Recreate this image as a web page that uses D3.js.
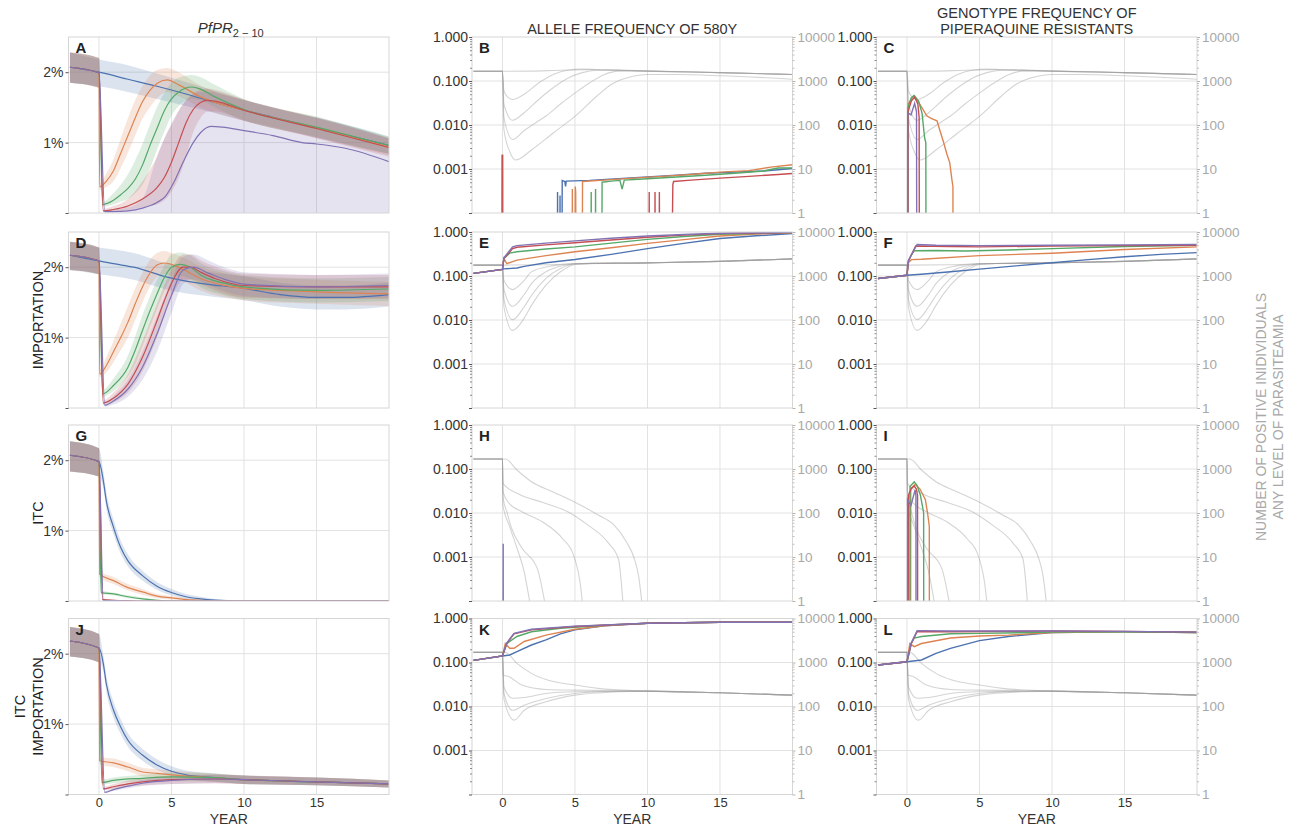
<!DOCTYPE html>
<html><head><meta charset="utf-8">
<script src="https://cdn.jsdelivr.net/npm/d3@7"></script>
<style>body{margin:0;background:#fff;} svg{font-family:"Liberation Sans",Arial,sans-serif;}</style>
</head><body><svg id="c" width="1298" height="826"></svg>
<script>
// ---------------- DATA ----------------
const seriesNames = ["blue","orange","green","red","purple"];
const colors = ["#4C72B0","#DD8452","#55A868","#C44E52","#8172B3"];
const xTicks = [0,5,10,15];
const pctTicks = [0,1,2];
const freqTicks = [0.0001,0.001,0.01,0.1,1];
const countTicks = [1,10,100,1000,10000];
const colTitles = ["", "ALLELE FREQUENCY OF 580Y", "GENOTYPE FREQUENCY OF|PIPERAQUINE RESISTANTS"];
const rowLabels = [[], ["IMPORTATION"], ["ITC"], ["ITC","IMPORTATION"]];
const letters = ["A","B","C","D","E","F","G","H","I","J","K","L"];
const rightTitle = ["NUMBER OF POSITIVE INIDIVIDUALS","ANY LEVEL OF PARASITEAMIA"];

// PfPR panels: [year, mean %, low %, high %]
const A_pre = [[-2,2.07,1.85,2.28],[0,1.99,1.78,2.2]];
const A_blue = [[-2,2.07,1.85,2.28],[0,2.0,1.8,2.18],[2,1.9,1.72,2.1],[4,1.8,1.62,1.98],[6,1.69,1.52,1.86],[8,1.57,1.42,1.73],[10,1.46,1.31,1.61],[12,1.36,1.22,1.5],[15,1.21,1.07,1.35],[18,1.06,0.93,1.2],[20,0.96,0.84,1.08]];
const A_orange = [[0.05,0.37,0.33,0.42],[0.5,0.45,0.37,0.56],[1,0.6,0.45,0.76],[1.5,0.85,0.64,1.06],[2,1.1,0.86,1.35],[2.5,1.35,1.1,1.6],[3,1.58,1.34,1.8],[3.5,1.74,1.5,1.95],[4,1.84,1.63,2.03],[4.7,1.89,1.72,2.06],[5.5,1.82,1.66,2.0],[7,1.65,1.5,1.81],[10,1.46,1.31,1.61],[15,1.21,1.07,1.36],[20,0.94,0.82,1.07]];
const A_green = [[0.25,0.12,0.09,0.16],[1,0.18,0.12,0.28],[1.5,0.26,0.16,0.4],[2,0.35,0.2,0.55],[2.5,0.48,0.28,0.75],[3,0.68,0.4,0.98],[3.5,0.95,0.62,1.25],[4,1.2,0.9,1.5],[4.5,1.45,1.15,1.7],[5,1.62,1.38,1.85],[5.5,1.72,1.52,1.92],[6.4,1.79,1.62,1.96],[7,1.76,1.6,1.93],[8,1.65,1.5,1.82],[10,1.47,1.32,1.62],[15,1.22,1.08,1.37],[20,0.96,0.84,1.09]];
const A_red = [[0.3,0.03,0.01,0.06],[1,0.05,0.02,0.1],[2,0.1,0.04,0.2],[3,0.2,0.08,0.45],[4,0.36,0.12,0.8],[4.5,0.5,0.18,1.05],[5,0.72,0.3,1.25],[5.5,1.0,0.5,1.45],[6,1.28,0.8,1.6],[6.5,1.47,1.15,1.7],[7,1.57,1.35,1.75],[7.5,1.6,1.44,1.77],[8,1.59,1.44,1.75],[10,1.46,1.31,1.61],[15,1.2,1.06,1.35],[20,0.93,0.8,1.06]];
const A_purple = [[0.4,0.02,0,0.04],[1,0.02,0,0.05],[2,0.03,0,0.08],[3,0.07,0,0.2],[4,0.15,0,0.8],[4.6,0.24,0,1.1],[5.2,0.45,0,1.35],[5.8,0.72,0,1.55],[6.5,1.0,0,1.68],[7,1.14,0,1.72],[7.7,1.23,0,1.72],[8.5,1.22,0,1.68],[10,1.17,0,1.6],[12,1.1,0,1.5],[14,1.0,0,1.4],[15,0.98,0,1.36],[17,0.92,0,1.25],[20,0.73,0,1.06]];

const D_pre = [[-2,2.17,1.96,2.36],[0,2.09,1.9,2.28]];
const D_blue = [[1,2.05,1.87,2.25],[2.4,2.0,1.82,2.2],[4.7,1.86,1.68,2.05],[7,1.77,1.6,1.95],[10,1.7,1.53,1.87],[12.5,1.61,1.44,1.78],[15,1.57,1.4,1.74],[17,1.57,1.4,1.74],[20,1.61,1.44,1.78]];
const D_orange = [[0.05,0.48,0.44,0.54],[0.5,0.6,0.5,0.72],[1,0.8,0.65,0.95],[1.5,1.0,0.82,1.2],[2,1.22,1.0,1.45],[2.5,1.48,1.25,1.7],[3,1.72,1.5,1.92],[3.5,1.91,1.72,2.1],[4,2.03,1.86,2.2],[4.5,2.06,1.9,2.23],[5,2.04,1.88,2.2],[6,1.95,1.78,2.12],[7,1.84,1.67,2.01],[8.5,1.75,1.58,1.92],[10,1.7,1.53,1.87],[15,1.65,1.48,1.82],[20,1.62,1.45,1.79]];
const D_green = [[0.25,0.2,0.16,0.26],[1,0.32,0.24,0.42],[2,0.58,0.45,0.75],[2.5,0.82,0.62,1.02],[3,1.1,0.88,1.32],[3.5,1.37,1.15,1.58],[4,1.62,1.4,1.82],[4.5,1.85,1.65,2.02],[5,2.0,1.84,2.18],[5.6,2.04,1.88,2.21],[6.3,2.0,1.83,2.17],[7,1.89,1.72,2.06],[8.5,1.78,1.61,1.95],[10,1.72,1.55,1.89],[15,1.67,1.5,1.84],[20,1.69,1.52,1.86]];
const D_red = [[0.3,0.07,0.04,0.11],[1,0.14,0.08,0.22],[2,0.34,0.22,0.48],[3,0.72,0.52,0.95],[4,1.24,1.0,1.48],[4.5,1.52,1.3,1.74],[5,1.77,1.56,1.96],[5.8,2.0,1.82,2.18],[6.3,2.0,1.83,2.18],[7,1.93,1.76,2.1],[8,1.84,1.67,2.01],[10,1.74,1.57,1.91],[15,1.72,1.55,1.89],[20,1.72,1.55,1.89]];
const D_purple = [[0.4,0.04,0.02,0.07],[1,0.1,0.05,0.17],[2,0.27,0.16,0.4],[3,0.58,0.4,0.8],[4,1.05,0.8,1.3],[5,1.6,1.35,1.82],[5.8,1.96,1.76,2.15],[6.5,2.0,1.83,2.18],[7.5,1.92,1.75,2.1],[8.5,1.84,1.67,2.01],[10,1.76,1.59,1.93],[15,1.72,1.55,1.89],[20,1.74,1.57,1.91]];

const G_pre = [[-2,2.07,1.84,2.27],[0,1.98,1.77,2.17]];
const G_blue = [[0.3,1.71,1.6,1.85],[0.5,1.43,1.32,1.56],[1,1.05,0.95,1.16],[1.5,0.76,0.67,0.86],[2,0.57,0.49,0.66],[3,0.36,0.29,0.43],[4,0.21,0.16,0.27],[5,0.12,0.08,0.17],[6,0.06,0.03,0.1],[7,0.03,0.01,0.06],[8,0.012,0,0.03],[9,0.005,0,0.015],[10,0,0,0.005],[20,0,0,0]];
const G_orange = [[0.05,0.38,0.33,0.43],[1,0.29,0.24,0.34],[2,0.19,0.15,0.24],[3,0.13,0.09,0.17],[4,0.07,0.04,0.1],[5,0.045,0.02,0.07],[6,0.02,0.005,0.04],[7,0.01,0,0.02],[8,0,0,0.005],[20,0,0,0]];
const G_green = [[0.15,0.12,0.1,0.15],[1,0.1,0.08,0.12],[2,0.06,0.04,0.08],[3,0.03,0.02,0.05],[4,0.01,0,0.02],[5,0,0,0.005],[20,0,0,0]];
const G_red = [[0.25,0.02,0.01,0.04],[1,0.01,0,0.02],[2,0.004,0,0.01],[3,0,0,0],[20,0,0,0]];
const G_purple = [[0.3,0.01,0,0.02],[1,0.004,0,0.01],[2,0,0,0],[20,0,0,0]];

const J_pre = [[-2,2.18,1.96,2.38],[0,2.08,1.88,2.28]];
const J_blue = [[0.3,1.86,1.75,1.98],[0.5,1.58,1.47,1.7],[1,1.2,1.09,1.32],[1.5,0.96,0.86,1.07],[2,0.77,0.68,0.87],[3,0.56,0.48,0.65],[4,0.42,0.35,0.5],[5,0.33,0.27,0.4],[6,0.28,0.22,0.34],[8,0.24,0.18,0.3],[10,0.21,0.15,0.27],[15,0.18,0.13,0.24],[20,0.15,0.1,0.2]];
const J_orange = [[0.05,0.48,0.43,0.53],[1,0.45,0.39,0.51],[2,0.39,0.33,0.45],[3,0.32,0.26,0.38],[4,0.3,0.24,0.36],[5,0.28,0.22,0.34],[7,0.25,0.19,0.31],[10,0.21,0.15,0.27],[15,0.18,0.13,0.24],[20,0.15,0.1,0.2]];
const J_green = [[0.2,0.17,0.14,0.21],[1,0.2,0.16,0.24],[3,0.23,0.18,0.28],[5,0.25,0.19,0.31],[8,0.24,0.18,0.3],[10,0.21,0.15,0.27],[15,0.18,0.13,0.24],[20,0.15,0.1,0.2]];
const J_red = [[0.3,0.08,0.06,0.11],[1,0.11,0.08,0.15],[2,0.15,0.11,0.2],[3,0.18,0.13,0.23],[5,0.21,0.15,0.27],[8,0.22,0.16,0.28],[10,0.21,0.15,0.27],[15,0.18,0.13,0.24],[20,0.15,0.1,0.2]];
const J_purple = [[0.4,0.03,0.02,0.05],[1,0.07,0.05,0.1],[2,0.12,0.09,0.16],[3,0.16,0.12,0.21],[5,0.2,0.15,0.26],[8,0.22,0.16,0.28],[10,0.21,0.15,0.27],[15,0.18,0.13,0.24],[20,0.15,0.1,0.2]];

// Frequency panels: [year, frequency] (0 = none)
const B_blue = [[-2,0],[-0.01,0],[0,0.0021],[0.01,0],[3.78,0],[3.8,0.0003],[3.82,0],[3.95,0],[3.97,0.00025],[3.99,0],[4.1,0],[4.12,0.00055],[4.3,0.00052],[4.35,0.0004],[4.4,0.00053],[6,0.00055],[8,0.0006],[10,0.00066],[12,0.00072],[14,0.0008],[16,0.00085],[18,0.0009],[20,0.00103]];
const B_orange = [[-2,0],[0.01,0],[0.02,0.0021],[0.03,0],[4.8,0],[4.82,0.00035],[4.84,0],[5.0,0],[5.02,0.0004],[5.05,0.0003],[5.08,0],[5.5,0],[5.52,0.00052],[7,0.00056],[9,0.00062],[11,0.00068],[13,0.00075],[15,0.00085],[17,0.00092],[18.5,0.0011],[20,0.00125]];
const B_green = [[-2,0],[6.1,0],[6.12,0.0003],[6.14,0],[6.4,0],[6.42,0.00035],[6.44,0],[6.85,0],[6.87,0.0005],[7.5,0.00053],[8.1,0.00055],[8.25,0.00035],[8.4,0.00056],[10,0.0006],[12,0.00066],[14,0.00072],[16,0.0008],[18,0.0009],[19,0.00105],[20,0.00105]];
const B_red = [[-2,0],[-0.03,0],[-0.02,0.0021],[-0.01,0],[10.1,0],[10.12,0.0003],[10.14,0],[10.5,0],[10.52,0.0003],[10.54,0],[10.8,0],[10.82,0.0003],[10.85,0],[11.65,0],[11.75,0.00045],[11.8,0.00052],[13,0.00056],[15,0.00062],[17,0.00068],[19,0.00075],[20,0.00079]];
const B_purple = [[-2,0],[20,0]];

const C_blue = [[-2,0],[20,0]];
const C_orange = [[-2,0],[0.07,0],[0.08,0.03],[0.46,0.046],[0.8,0.033],[1.38,0.016],[1.7,0.014],[2.07,0.0125],[2.3,0.007],[2.53,0.004],[2.75,0.0022],[2.95,0.0014],[3.1,0.00057],[3.17,0.0004],[3.18,0],[20,0]];
const C_green = [[-2,0],[0.06,0],[0.07,0.025],[0.3,0.042],[0.5,0.047],[0.8,0.035],[1.04,0.0186],[1.22,0.005],[1.3,0.004],[1.32,0],[20,0]];
const C_red = [[-2,0],[0.06,0],[0.07,0.02],[0.3,0.035],[0.53,0.043],[0.75,0.03],[0.84,0.015],[0.86,0],[20,0]];
const C_purple = [[-2,0],[0.04,0],[0.05,0.019],[0.28,0.017],[0.53,0.031],[0.66,0.02],[0.68,0],[20,0]];

const E_blue = [[-2,0.115],[0,0.141],[0.1,0.145],[1,0.152],[1.5,0.165],[3,0.2],[5,0.238],[7.5,0.31],[10,0.42],[12.5,0.55],[15,0.71],[17.5,0.82],[20,0.92]];
const E_orange = [[-2,0.115],[0,0.141],[0.1,0.25],[0.3,0.19],[1,0.23],[3,0.29],[5,0.355],[7.5,0.44],[10,0.55],[12.5,0.67],[15,0.81],[17.5,0.9],[20,0.96]];
const E_green = [[-2,0.115],[0,0.141],[0.1,0.25],[0.5,0.33],[1,0.355],[3,0.41],[5,0.46],[7.5,0.56],[10,0.68],[12.5,0.79],[15,0.89],[20,0.97]];
const E_red = [[-2,0.115],[0,0.141],[0.1,0.25],[0.7,0.42],[1,0.45],[3,0.51],[5,0.57],[7.5,0.66],[10,0.76],[12.5,0.85],[15,0.92],[20,0.97]];
const E_purple = [[-2,0.115],[0,0.141],[0.1,0.26],[0.7,0.46],[1,0.49],[3,0.56],[5,0.63],[7.5,0.72],[10,0.81],[12.5,0.88],[15,0.94],[20,0.98]];

const F_blue = [[-2,0.088],[0,0.104],[1,0.11],[3,0.125],[5,0.143],[7.5,0.17],[10,0.2],[12.5,0.235],[15,0.273],[17.5,0.31],[20,0.34]];
const F_orange = [[-2,0.088],[0,0.104],[0.1,0.2],[0.3,0.235],[1,0.24],[5,0.29],[10,0.33],[15,0.4],[20,0.46]];
const F_green = [[-2,0.088],[0,0.104],[0.1,0.22],[0.3,0.3],[0.5,0.375],[2,0.38],[4,0.37],[7,0.39],[10,0.42],[15,0.47],[20,0.5]];
const F_red = [[-2,0.088],[0,0.104],[0.1,0.22],[0.3,0.3],[0.6,0.48],[3,0.47],[5,0.46],[10,0.48],[15,0.49],[20,0.5]];
const F_purple = [[-2,0.088],[0,0.104],[0.1,0.22],[0.3,0.3],[0.7,0.52],[2,0.5],[5,0.49],[10,0.5],[15,0.51],[20,0.52]];

const H_blue = [[-2,0],[20,0]];
const H_orange = [[-2,0],[20,0]];
const H_green = [[-2,0],[20,0]];
const H_red = [[-2,0],[20,0]];
const H_purple = [[-2,0],[0.04,0],[0.05,0.002],[0.06,0],[20,0]];

const I_blue = [[-2,0],[20,0]];
const I_orange = [[-2,0],[0.25,0],[0.26,0.035],[0.56,0.045],[0.9,0.035],[1.27,0.02],[1.44,0.009],[1.54,0.005],[1.55,0],[20,0]];
const I_green = [[-2,0],[0.2,0],[0.21,0.04],[0.5,0.051],[0.7,0.042],[0.92,0.026],[1.09,0.013],[1.15,0.01],[1.16,0],[20,0]];
const I_red = [[-2,0],[0.08,0],[0.1,0.025],[0.3,0.036],[0.5,0.041],[0.65,0.035],[0.73,0.025],[0.74,0],[20,0]];
const I_purple = [[-2,0],[0.03,0],[0.04,0.02],[0.28,0.015],[0.56,0.033],[0.62,0.025],[0.63,0],[20,0]];

const K_blue = [[-2,0.112],[0,0.141],[0.5,0.148],[1,0.177],[2,0.25],[3,0.326],[4,0.447],[5,0.55],[7,0.68],[10,0.78],[15,0.82],[20,0.82]];
const K_orange = [[-2,0.112],[0,0.141],[0.2,0.27],[0.5,0.21],[0.8,0.21],[1.5,0.3],[3,0.42],[5,0.57],[7,0.68],[10,0.78],[15,0.82],[20,0.82]];
const K_green = [[-2,0.112],[0,0.141],[0.3,0.27],[1,0.39],[2,0.5],[4,0.6],[7,0.7],[10,0.78],[15,0.82],[20,0.82]];
const K_red = [[-2,0.112],[0,0.141],[0.3,0.27],[0.8,0.45],[2,0.55],[5,0.66],[10,0.78],[15,0.82],[20,0.82]];
const K_purple = [[-2,0.112],[0,0.141],[0.3,0.28],[0.8,0.46],[2,0.57],[5,0.67],[10,0.78],[15,0.82],[20,0.82]];

const L_blue = [[-2,0.088],[0,0.104],[1,0.114],[2,0.162],[3,0.21],[5,0.315],[7,0.39],[10,0.48],[15,0.5],[20,0.48]];
const L_orange = [[-2,0.088],[0,0.104],[0.2,0.27],[0.5,0.23],[1,0.27],[3,0.36],[5,0.4],[7,0.42],[10,0.48],[15,0.5],[20,0.48]];
const L_green = [[-2,0.088],[0,0.104],[0.3,0.27],[0.5,0.36],[1,0.39],[3,0.45],[5,0.46],[10,0.49],[15,0.5],[20,0.48]];
const L_red = [[-2,0.088],[0,0.104],[0.3,0.27],[0.7,0.5],[3,0.5],[10,0.52],[15,0.51],[20,0.49]];
const L_purple = [[-2,0.088],[0,0.104],[0.3,0.28],[0.7,0.53],[3,0.52],[10,0.52],[15,0.51],[20,0.49]];

// Number of positive individuals (right axis): [year, count]
const R1_g1 = [[-2,1660],[0,1660],[2,1680],[4,1760],[6,1800],[8,1740],[10,1680],[15,1550],[20,1400]];
const R1_g2 = [[-2,1660],[0,1660],[0.1,600],[0.4,420],[0.7,380],[1.5,500],[2.5,900],[3.5,1400],[4.5,1760],[5.5,1860],[7,1800],[10,1680],[15,1550],[20,1400]];
const R1_g3 = [[-2,1660],[0,1660],[0.1,300],[0.7,128],[1.5,190],[2.5,380],[3.5,700],[4.5,1150],[5.5,1550],[6.5,1760],[8,1780],[10,1680],[15,1550],[20,1400]];
const R1_g4 = [[-2,1660],[0,1660],[0.1,150],[0.7,47],[1.5,75],[2.5,125],[3,160],[4,300],[5,530],[6,900],[7,1390],[8,1680],[10,1690],[15,1550],[20,1400]];
const R1_g5 = [[-2,1660],[0,1660],[0.1,80],[0.5,25],[0.9,16],[2,27],[3.5,66],[5,157],[6.5,450],[7.5,830],[9,1280],[10,1400],[12,1400],[15,1320],[20,1100]];

const R2_g1 = [[-2,1770],[0,1770],[3,1800],[5,1900],[10,1990],[15,2150],[20,2450]];
const R2_g2 = [[-2,1770],[0,1770],[0.1,800],[0.7,490],[1.5,800],[2,1240],[3,1600],[4,1800],[5,1900],[10,1990],[15,2150],[20,2450]];
const R2_g3 = [[-2,1770],[0,1770],[0.1,500],[0.7,205],[1.5,380],[2,670],[3,1250],[4.5,1800],[5,1900],[10,1990],[15,2150],[20,2450]];
const R2_g4 = [[-2,1770],[0,1770],[0.1,300],[0.7,102],[1.5,200],[2,360],[3,880],[4,1480],[5,1880],[10,1990],[15,2150],[20,2450]];
const R2_g5 = [[-2,1770],[0,1770],[0.1,200],[0.7,58],[1.5,110],[2,215],[3,620],[4,1250],[5,1830],[6,1930],[10,1990],[15,2150],[20,2450]];

const R3_g1 = [[-2,1690],[0.2,1690],[1,950],[2,515],[3.45,305],[5,175],[6.6,90],[7.7,53],[8.55,22],[9.1,9],[9.4,3.5],[9.6,1]];
const R3_g2 = [[-2,1690],[0,1690],[0.03,472],[1,280],[2.75,175],[4.5,107],[5.9,53],[7.3,21],[8,9],[8.3,1]];
const R3_g3 = [[-2,1690],[0,1690],[0.03,316],[0.46,165],[1.34,107],[2.75,63],[4.15,26],[4.9,11],[5.4,2],[5.5,1]];
const R3_g4 = [[-2,1690],[0,1690],[0.05,215],[0.3,107],[0.63,45],[1.34,16],[2.4,5.5],[2.9,1]];
const R3_g5 = [[-2,1690],[0,1690],[0.03,152],[0.46,53],[1,16],[1.5,4.6],[1.87,1]];

const R4_g1 = [[-2,1700],[0.2,1700],[1,957],[2,566],[3.1,399],[5,307],[6.6,258],[9.8,224],[15,205],[20,181]];
const R4_g2 = [[-2,1700],[0,1700],[0.05,519],[0.46,475],[1.34,307],[3,244],[5,235],[10,224],[15,205],[20,181]];
const R4_g3 = [[-2,1700],[0,1700],[0.1,281],[0.7,154],[1.5,160],[3,198],[5,216],[10,224],[15,205],[20,181]];
const R4_g4 = [[-2,1700],[0,1700],[0.1,200],[0.7,82],[1.5,107],[3,152],[5,198],[8,222],[10,224],[15,205],[20,181]];
const R4_g5 = [[-2,1700],[0,1700],[0.1,150],[0.8,49],[1.5,82],[3,128],[5,181],[8,216],[10,224],[15,205],[20,181]];

// ---------------- LAYOUT ----------------
const colLeft = [68.5, 472, 876.5], plotW = 320.5;
const rowTop = [37, 232, 425, 618.5], plotH = 176;
const xDomain = [-2.1, 20];

const panels = [
  {t:"pct", r:0, c:0, s:[A_blue, A_pre.concat(A_orange), A_pre.concat(A_green), A_pre.concat(A_red), A_pre.concat(A_purple)]},
  {t:"log", r:0, c:1, s:[B_blue,B_orange,B_green,B_red,B_purple], g:[R1_g1,R1_g2,R1_g3,R1_g4,R1_g5]},
  {t:"log", r:0, c:2, s:[C_blue,C_orange,C_green,C_red,C_purple], g:[R1_g1,R1_g2,R1_g3,R1_g4,R1_g5]},
  {t:"pct", r:1, c:0, s:[D_pre.concat(D_blue), D_pre.concat(D_orange), D_pre.concat(D_green), D_pre.concat(D_red), D_pre.concat(D_purple)]},
  {t:"log", r:1, c:1, s:[E_blue,E_orange,E_green,E_red,E_purple], g:[R2_g1,R2_g2,R2_g3,R2_g4,R2_g5]},
  {t:"log", r:1, c:2, s:[F_blue,F_orange,F_green,F_red,F_purple], g:[R2_g1,R2_g2,R2_g3,R2_g4,R2_g5]},
  {t:"pct", r:2, c:0, s:[G_pre.concat(G_blue), G_pre.concat(G_orange), G_pre.concat(G_green), G_pre.concat(G_red), G_pre.concat(G_purple)]},
  {t:"log", r:2, c:1, s:[H_blue,H_orange,H_green,H_red,H_purple], g:[R3_g1,R3_g2,R3_g3,R3_g4,R3_g5]},
  {t:"log", r:2, c:2, s:[I_blue,I_orange,I_green,I_red,I_purple], g:[R3_g1,R3_g2,R3_g3,R3_g4,R3_g5]},
  {t:"pct", r:3, c:0, s:[J_pre.concat(J_blue), J_pre.concat(J_orange), J_pre.concat(J_green), J_pre.concat(J_red), J_pre.concat(J_purple)]},
  {t:"log", r:3, c:1, s:[K_blue,K_orange,K_green,K_red,K_purple], g:[R4_g1,R4_g2,R4_g3,R4_g4,R4_g5]},
  {t:"log", r:3, c:2, s:[L_blue,L_orange,L_green,L_red,L_purple], g:[R4_g1,R4_g2,R4_g3,R4_g4,R4_g5]}
];

const svg = d3.select("#c");
const defs = svg.append("defs");
const x = d3.scaleLinear().domain(xDomain).range([0, plotW]);
const GRID = "#e2e2e2", FRAME = "#d6d6d6", TXT = "#333", GREYTXT = "#a8a8a8";

function styleAxis(ax, col){
  ax.select(".domain").remove();
  ax.selectAll("line").attr("stroke", col);
  ax.selectAll("text").attr("fill", col === "#555" ? TXT : GREYTXT);
}

panels.forEach((p, i) => {
  const g = svg.append("g").attr("transform", `translate(${colLeft[p.c]},${rowTop[p.r]})`);
  const id = "clip" + i;
  defs.append("clipPath").attr("id", id).append("rect").attr("width", plotW).attr("height", plotH);

  let y;
  if (p.t === "pct") y = d3.scaleLinear().domain([0, 2.5]).range([plotH, 0]);
  else y = d3.scaleLog().domain([1e-4, 1]).range([plotH, 0]);
  const yR = d3.scaleLog().domain([1, 1e4]).range([plotH, 0]);

  // grid
  g.selectAll(".vg").data(xTicks).join("line")
    .attr("x1", d => x(d)).attr("x2", d => x(d)).attr("y1", 0).attr("y2", plotH)
    .attr("stroke", GRID).attr("stroke-width", 1);
  const hgrid = p.t === "pct" ? [1, 2] : [0.001, 0.01, 0.1];
  g.selectAll(".hg").data(hgrid).join("line")
    .attr("x1", 0).attr("x2", plotW).attr("y1", d => y(d)).attr("y2", d => y(d))
    .attr("stroke", GRID).attr("stroke-width", 1);

  const cl = g.append("g").attr("clip-path", `url(#${id})`);

  if (p.t === "pct") {
    const area = d3.area().x(d => x(d[0])).y0(d => y(d[2])).y1(d => y(d[3])).curve(d3.curveMonotoneX);
    const line = d3.line().x(d => x(d[0])).y(d => y(d[1])).curve(d3.curveMonotoneX);
    p.s.forEach((s, k) => cl.append("path").datum(s).attr("d", area)
      .attr("fill", colors[k]).attr("fill-opacity", 0.2).attr("stroke", "none"));
    p.s.forEach((s, k) => cl.append("path").datum(s).attr("d", line)
      .attr("fill", "none").attr("stroke", colors[k]).attr("stroke-width", 1.2));
  } else {
    const gline = d3.line().x(d => x(d[0])).y(d => yR(Math.max(d[1], 0.5))).curve(d3.curveMonotoneX);
    p.g.forEach(s => cl.append("path").datum(s).attr("d", gline)
      .attr("fill", "none").attr("stroke", "#999").attr("stroke-opacity", 0.42).attr("stroke-width", 1.1));
    const line = d3.line().x(d => x(d[0])).y(d => y(d[1] > 0 ? d[1] : 1e-6));
    p.s.forEach((s, k) => cl.append("path").datum(s).attr("d", line)
      .attr("fill", "none").attr("stroke", colors[k]).attr("stroke-width", 1.4));
  }

  // frame
  g.append("rect").attr("width", plotW).attr("height", plotH)
    .attr("fill", "none").attr("stroke", FRAME).attr("stroke-width", 1);

  // left axis
  if (p.t === "pct") {
    const ax = g.append("g").call(d3.axisLeft(y).tickValues(pctTicks)
      .tickFormat(d => d ? d + "%" : "").tickSize(3).tickPadding(2));
    ax.selectAll("text").style("font-size", "14px");
    styleAxis(ax, "#555");
  } else {
    const minor = [];
    for (let e = -4; e < 0; e++) for (let m = 2; m < 10; m++) minor.push(m * Math.pow(10, e));
    const ax = g.append("g").call(d3.axisLeft(y).tickValues(freqTicks)
      .tickFormat(d => d < 0.0005 ? "" : d3.format(".3f")(d)).tickSize(3).tickPadding(1));
    ax.selectAll("text").style("font-size", "14px");
    styleAxis(ax, "#555");
    const axm = g.append("g").call(d3.axisLeft(y).tickValues(minor).tickFormat("").tickSize(2));
    styleAxis(axm, "#888");
    const minorR = minor.map(v => v * 1e4);
    const axr = g.append("g").attr("transform", `translate(${plotW},0)`)
      .call(d3.axisRight(yR).tickValues(countTicks).tickFormat(d3.format("d")).tickSize(3).tickPadding(2));
    axr.selectAll("text").style("font-size", "13.5px");
    styleAxis(axr, "#b5b5b5");
    const axrm = g.append("g").attr("transform", `translate(${plotW},0)`)
      .call(d3.axisRight(yR).tickValues(minorR).tickFormat("").tickSize(2));
    styleAxis(axrm, "#c0c0c0");
  }

  // bottom axis on last row
  if (p.r === 3) {
    const ax = g.append("g").attr("transform", `translate(0,${plotH})`)
      .call(d3.axisBottom(x).tickValues(xTicks).tickSize(0).tickPadding(3));
    ax.selectAll("text").style("font-size", "13px");
    styleAxis(ax, "#555");
    g.append("text").attr("x", plotW / 2).attr("y", plotH + 29).attr("text-anchor", "middle")
      .style("font-size", "14px").attr("fill", TXT).text("YEAR");
  }

  // letter
  g.append("text").attr("x", 7).attr("y", 16).style("font-size", "15px").style("font-weight", "bold")
    .attr("fill", "#222").text(letters[i]);
});

// column titles
const t0 = svg.append("text").attr("x", colLeft[0] + plotW / 2 + 2).attr("y", 33)
  .attr("text-anchor", "middle").attr("fill", TXT).style("font-size", "15px");
t0.append("tspan").style("font-style", "italic").text("PfPR");
t0.append("tspan").attr("dy", 4).style("font-size", "11px").text("2 − 10");

svg.append("text").attr("x", colLeft[1] + plotW / 2).attr("y", 34).attr("text-anchor", "middle")
  .attr("fill", TXT).style("font-size", "14.5px").text(colTitles[1]);
colTitles[2].split("|").forEach((s, k) => {
  svg.append("text").attr("x", colLeft[2] + plotW / 2).attr("y", 18 + 16 * k).attr("text-anchor", "middle")
    .attr("fill", TXT).style("font-size", "14.5px").text(s);
});

// row labels
rowLabels.forEach((labs, r) => {
  const cy = rowTop[r] + plotH / 2;
  const xs = labs.length === 2 ? [20, 38] : [38];
  labs.forEach((s, k) => {
    svg.append("text").attr("transform", `translate(${xs[k]},${cy}) rotate(-90)`)
      .attr("text-anchor", "middle").attr("dominant-baseline", "central")
      .attr("fill", "#222").style("font-size", "14.5px").text(s);
  });
});

// right title
rightTitle.forEach((s, k) => {
  svg.append("text").attr("transform", `translate(${1261 + 16.5 * k},417) rotate(-90)`)
    .attr("text-anchor", "middle").attr("dominant-baseline", "central")
    .attr("fill", GREYTXT).style("font-size", "14px").text(s);
});
</script>
</body></html>
